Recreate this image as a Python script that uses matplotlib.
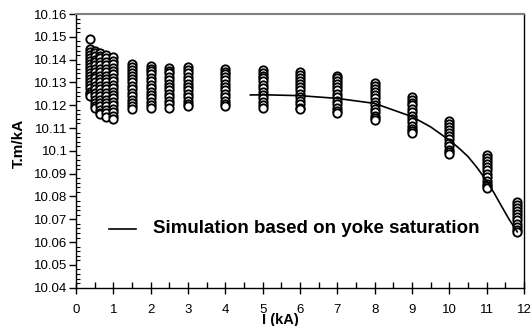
import matplotlib
matplotlib.use("Agg")
import matplotlib.pyplot as plt
from matplotlib.ticker import MultipleLocator, FixedLocator

plt.rcParams['font.family'] = ['Liberation Sans', 'DejaVu Sans']

# Measured currents (kA) of each cluster
cluster_x = [0.37, 0.5, 0.65, 0.8, 1.0, 1.5, 2.0, 2.5, 3.0, 4.0, 5.0, 6.0, 7.0, 8.0, 9.0, 10.0, 11.0, 11.82]

c037 = [10.149, 10.1445, 10.1432, 10.142, 10.1408, 10.1395, 10.138, 10.1368, 10.1355, 10.134,
        10.1328, 10.1315, 10.130, 10.1288, 10.1275, 10.126, 10.125, 10.124]
c050 = [10.144, 10.1428, 10.1415, 10.140, 10.1388, 10.1375, 10.136, 10.1345, 10.133, 10.1318,
        10.130, 10.1285, 10.127, 10.1255, 10.124, 10.1225, 10.121, 10.1198, 10.119]
c065 = [10.143, 10.1418, 10.1405, 10.139, 10.1375, 10.136, 10.1345, 10.133, 10.1315, 10.130,
        10.1285, 10.127, 10.1255, 10.124, 10.1225, 10.121, 10.1195, 10.118, 10.1168, 10.116]
c080 = [10.142, 10.1405, 10.139, 10.1375, 10.136, 10.1345, 10.133, 10.1315, 10.130, 10.1285,
        10.127, 10.1255, 10.124, 10.1225, 10.121, 10.1195, 10.118, 10.1165, 10.115]
c100 = [10.141, 10.1395, 10.138, 10.1365, 10.135, 10.1335, 10.132, 10.1305, 10.129, 10.1275,
        10.126, 10.1245, 10.123, 10.1215, 10.120, 10.1185, 10.117, 10.1155, 10.114]
c150 = [10.138, 10.1368, 10.1355, 10.134, 10.1328, 10.1315, 10.130, 10.1285, 10.127, 10.1255,
        10.124, 10.1225, 10.121, 10.1195, 10.1183]
c200 = [10.1373, 10.136, 10.1348, 10.1335, 10.132, 10.1305, 10.129, 10.1275, 10.126, 10.1245,
        10.123, 10.1215, 10.120, 10.119]
c250 = [10.1365, 10.1352, 10.134, 10.1325, 10.131, 10.1295, 10.128, 10.1265, 10.125, 10.1235,
        10.122, 10.1205, 10.119]
c300 = [10.1366, 10.1353, 10.134, 10.1325, 10.131, 10.1295, 10.128, 10.1265, 10.125, 10.1235,
        10.122, 10.1205, 10.1197]
c400 = [10.1359, 10.1347, 10.1335, 10.1322, 10.131, 10.1295, 10.128, 10.1265, 10.125, 10.1235,
        10.122, 10.1205, 10.1197]
c500 = [10.1355, 10.1343, 10.133, 10.1318, 10.1305, 10.129, 10.1275, 10.126, 10.1245, 10.123,
        10.1215, 10.120, 10.119]
c600 = [10.1344, 10.1332, 10.132, 10.1307, 10.1295, 10.128, 10.1265, 10.125, 10.1235, 10.122,
        10.1205, 10.119, 10.1182]
c700 = [10.133, 10.1318, 10.1305, 10.1292, 10.128, 10.1265, 10.125, 10.1235, 10.122, 10.1205,
        10.119, 10.1175, 10.1165]
c800 = [10.1297, 10.1285, 10.1272, 10.126, 10.1245, 10.123, 10.1215, 10.120, 10.1185, 10.117,
        10.1155, 10.1143, 10.1135]
c900 = [10.1237, 10.1225, 10.1212, 10.120, 10.1185, 10.117, 10.1155, 10.114, 10.1125, 10.111,
        10.1095, 10.1085, 10.108]
c1000 = [10.113, 10.1118, 10.1105, 10.1092, 10.108, 10.1065, 10.105, 10.1035, 10.102, 10.1005,
         10.0993, 10.0985]
c1100 = [10.098, 10.0968, 10.0955, 10.0942, 10.093, 10.0915, 10.090, 10.0885, 10.087, 10.0855,
         10.0845, 10.0838]
c1182 = [10.0774, 10.0762, 10.075, 10.0737, 10.0725, 10.071, 10.0695, 10.068, 10.0665, 10.0652,
         10.0644]

clusters = [c037, c050, c065, c080, c100, c150, c200, c250, c300, c400,
            c500, c600, c700, c800, c900, c1000, c1100, c1182]

# Simulation curve
sim_x = [4.67, 5.0, 6.0, 7.0, 8.0, 9.0, 9.5, 10.0, 10.25, 10.5, 10.75, 11.0, 11.2, 11.4, 11.6, 11.82]
sim_y = [10.1245, 10.1246, 10.1242, 10.123, 10.1208, 10.115, 10.1105, 10.1047, 10.1013, 10.0975,
         10.0925, 10.0868, 10.0815, 10.0757, 10.0700, 10.0645]

x_ticks = [0, 1, 2, 3, 4, 5, 6, 7, 8, 9, 10, 11, 12]
y_ticks = [10.04, 10.05, 10.06, 10.07, 10.08, 10.09, 10.1, 10.11, 10.12, 10.13, 10.14, 10.15, 10.16]
y_labels = ["10.04", "10.05", "10.06", "10.07", "10.08", "10.09", "10.1",
            "10.11", "10.12", "10.13", "10.14", "10.15", "10.16"]

fig = plt.figure(figsize=(5.31, 3.26), dpi=100)
ax = fig.add_axes([0.1431, 0.1175, 0.8437, 0.8395])

for xv, vals in zip(cluster_x, clusters):
    ax.plot([xv] * len(vals), vals, linestyle='none', marker='o', markersize=6.0,
            markerfacecolor='white', markeredgecolor='black', markeredgewidth=1.35)

ax.plot(sim_x, sim_y, color='black', linewidth=1.2)

ax.set_xlim(0, 12)
ax.set_ylim(10.04, 10.16)
ax.xaxis.set_major_locator(FixedLocator(x_ticks))
ax.xaxis.set_minor_locator(MultipleLocator(0.5))
ax.yaxis.set_major_locator(FixedLocator(y_ticks))
ax.set_yticklabels(y_labels)
ax.yaxis.set_minor_locator(MultipleLocator(0.002))

ax.tick_params(axis='x', which='major', direction='inout', length=8, width=1, labelsize=9.5, pad=8)
ax.tick_params(axis='x', which='minor', direction='in', length=4, width=1)
ax.tick_params(axis='y', which='major', direction='out', length=5, width=1, labelsize=9.5, pad=1)
ax.tick_params(axis='y', which='minor', direction='in', length=3, width=0.8)

for s in ['left', 'bottom', 'right']:
    ax.spines[s].set_color('black')
    ax.spines[s].set_linewidth(1)
ax.spines['top'].set_color('#808080')
ax.spines['top'].set_linewidth(1.5)

# Legend (manual, as drawn inside the plot)
ax.plot([0.88, 1.62], [10.0658, 10.0658], color='black', linewidth=1.2)
ax.text(2.05, 10.0658, "Simulation based on yoke saturation", fontsize=13.5,
        fontweight='bold', va='center', ha='left')

fig.text(280 / 531, 1 - 313 / 326, "I (kA)", fontsize=10.5, fontweight='bold',
         ha='center', va='top')
fig.text(19 / 531, 1 - 143 / 326, "T.m/kA", fontsize=11, fontweight='bold',
         ha='center', va='center', rotation=90)

fig.savefig("out.png", dpi=100)
